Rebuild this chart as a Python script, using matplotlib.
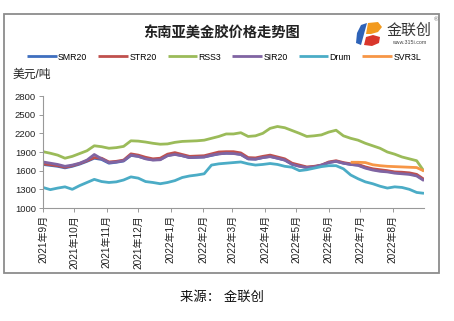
import numpy as np
import pandas as pd
import matplotlib
matplotlib.use("Agg")
from matplotlib import pyplot as plt, patches

plt.rcParams['font.family'] = ['Liberation Sans', 'Noto Sans CJK SC', 'DejaVu Sans']

# weekly readings, 2021-09-01 .. 2022-08-31
dates = pd.date_range("2021-09-01", periods=53, freq="7D")

smr20 = [1700, 1685, 1670, 1645, 1670, 1705, 1750, 1800, 1780, 1720, 1735, 1755, 1845, 1830,
         1795, 1775, 1780, 1845, 1865, 1840, 1810, 1815, 1820, 1845, 1870, 1880, 1880, 1860,
         1790, 1785, 1810, 1830, 1800, 1770, 1705, 1675, 1650, 1660, 1685, 1730, 1750, 1720,
         1700, 1690, 1650, 1620, 1600, 1590, 1570, 1560, 1550, 1525, 1450]
str20 = [1710, 1695, 1680, 1655, 1680, 1715, 1760, 1810, 1800, 1740, 1750, 1770, 1870, 1850,
         1815, 1790, 1800, 1865, 1890, 1860, 1830, 1835, 1840, 1870, 1900, 1905, 1905, 1885,
         1810, 1805, 1830, 1850, 1820, 1790, 1720, 1690, 1660, 1670, 1690, 1740, 1760, 1730,
         1710, 1700, 1660, 1630, 1615, 1600, 1580, 1575, 1565, 1540, 1460]
rss3 = [1905, 1880, 1850, 1800, 1830, 1875, 1920, 2000, 1985, 1960, 1970, 1990, 2080, 2075,
        2060, 2040, 2025, 2030, 2055, 2070, 2075, 2080, 2090, 2120, 2150, 2190, 2190, 2210,
        2150, 2160, 2200, 2280, 2310, 2290, 2245, 2200, 2150, 2160, 2175, 2220, 2250, 2160,
        2120, 2090, 2040, 2000, 1960, 1900, 1865, 1820, 1790, 1760, 1590]
sir20 = [1740, 1720, 1700, 1670, 1690, 1720, 1770, 1860, 1790, 1730, 1740, 1760, 1850, 1830,
         1790, 1770, 1775, 1840, 1860, 1840, 1810, 1815, 1820, 1850, 1870, 1880, 1875, 1860,
         1790, 1785, 1810, 1825, 1800, 1770, 1700, 1670, 1650, 1660, 1690, 1730, 1750, 1720,
         1700, 1685, 1640, 1610, 1590, 1580, 1560, 1550, 1540, 1515, 1440]
drum = [1330, 1295, 1320, 1340, 1300, 1360, 1410, 1460, 1425, 1410, 1420, 1450, 1500, 1480,
        1425, 1410, 1390, 1410, 1440, 1490, 1515, 1530, 1550, 1690, 1710, 1720, 1730, 1740,
        1710, 1690, 1700, 1715, 1700, 1670, 1655, 1600, 1615, 1640, 1665, 1680, 1680, 1630,
        1530, 1470, 1420, 1390, 1350, 1320, 1340, 1330, 1300, 1250, 1236]
svr3l = [np.nan] * 42 + [1735, 1735, 1730, 1695, 1680, 1670, 1665, 1660, 1655, 1650, 1595]

series = [("SMR20", smr20, "#3F6FBF"), ("STR20", str20, "#C0504D"), ("RSS3", rss3, "#9BBB59"),
          ("SIR20", sir20, "#8064A2"), ("Drum", drum, "#4BACC6"), ("SVR3L", svr3l, "#F79646")]

yticks = [1000, 1300, 1600, 1900, 2200, 2500, 2800]
month_ticks = pd.date_range("2021-09-01", "2022-08-01", freq="MS")
month_labels = [f"{d.year}年{d.month}月" for d in month_ticks]

fig = plt.figure(figsize=(4.54, 3.21), dpi=100)
W, H = 454, 321

# outer frame
fig.patches.append(patches.Rectangle((4 / W, 1 - 273 / H), 435 / W, 259 / H, transform=fig.transFigure,
                                     fill=False, edgecolor="#8c8c8c", linewidth=1.3))

ax = fig.add_axes([43 / W, 1 - 208 / H, 381 / W, 112 / H])
for name, vals, col in series:
    ax.plot(dates, vals, color=col, lw=2.0, label=name, solid_capstyle="butt")

ax.set_xlim(pd.Timestamp("2021-09-01"), pd.Timestamp("2022-08-31"))
ax.set_ylim(1000, 2800)
ax.set_yticks(yticks)
ax.set_yticklabels([str(v) for v in yticks], fontsize=6.8, color="#222222")
ax.set_xticks(month_ticks)
ax.set_xticklabels(month_labels, rotation=90, fontsize=7.2, color="#222222", va="top")
ax.tick_params(axis="both", length=3, width=0.7, color="#999999", pad=2)
for s in ["top", "right"]:
    ax.spines[s].set_visible(False)
for s in ["left", "bottom"]:
    ax.spines[s].set_color("#999999")
    ax.spines[s].set_linewidth(0.8)

fig.text(222 / W, 1 - 33 / H, "东南亚美金胶价格走势图", ha="center", va="center",
         fontsize=10.3, fontweight="bold", color="#222222")
fig.text(13 / W, 1 - 75 / H, "美元/吨", ha="left", va="center", fontsize=8.5, color="#222222")
fig.text(222 / W, 1 - 298 / H, "来源： 金联创", ha="center", va="center", fontsize=9.6, color="#111111")

leg = fig.legend(loc="center", bbox_to_anchor=(224 / W, 1 - 57 / H), ncol=6, frameon=False,
                 fontsize=6.3, handlelength=3.4, handletextpad=0.15, columnspacing=1.25)
for t in leg.get_texts():
    t.set_family(["Liberation Sans Narrow", "Liberation Sans"])

# logo
def fx(x):
    return x / W

def fy(y):
    return 1 - y / H

logo = [
    ([(361, 25), (367, 23), (364, 34), (361, 45), (356, 43), (357, 33)], "#2E63B8"),
    ([(368, 23), (378, 22), (382, 27), (378, 32), (371, 34), (366, 34)], "#F29A1F"),
    ([(366, 37), (373, 35), (380, 37), (379, 43), (372, 46), (364, 45)], "#D9372C"),
]
for pts, col in logo:
    fig.patches.append(patches.Polygon([(fx(a), fy(b)) for a, b in pts], closed=True,
                                       transform=fig.transFigure, facecolor=col, edgecolor="none"))
fig.text(409 / W, 1 - 31 / H, "金联创", ha="center", va="center", fontsize=10.8,
         color="#333333", family=["Noto Sans CJK SC"])
fig.text(409 / W, 1 - 43 / H, "www.315i.com", ha="center", va="center", fontsize=3.8, color="#444444")
fig.text(436 / W, 1 - 20 / H, "®", ha="center", va="center", fontsize=4.5, color="#666666")

fig.savefig("out.png", dpi=100)
